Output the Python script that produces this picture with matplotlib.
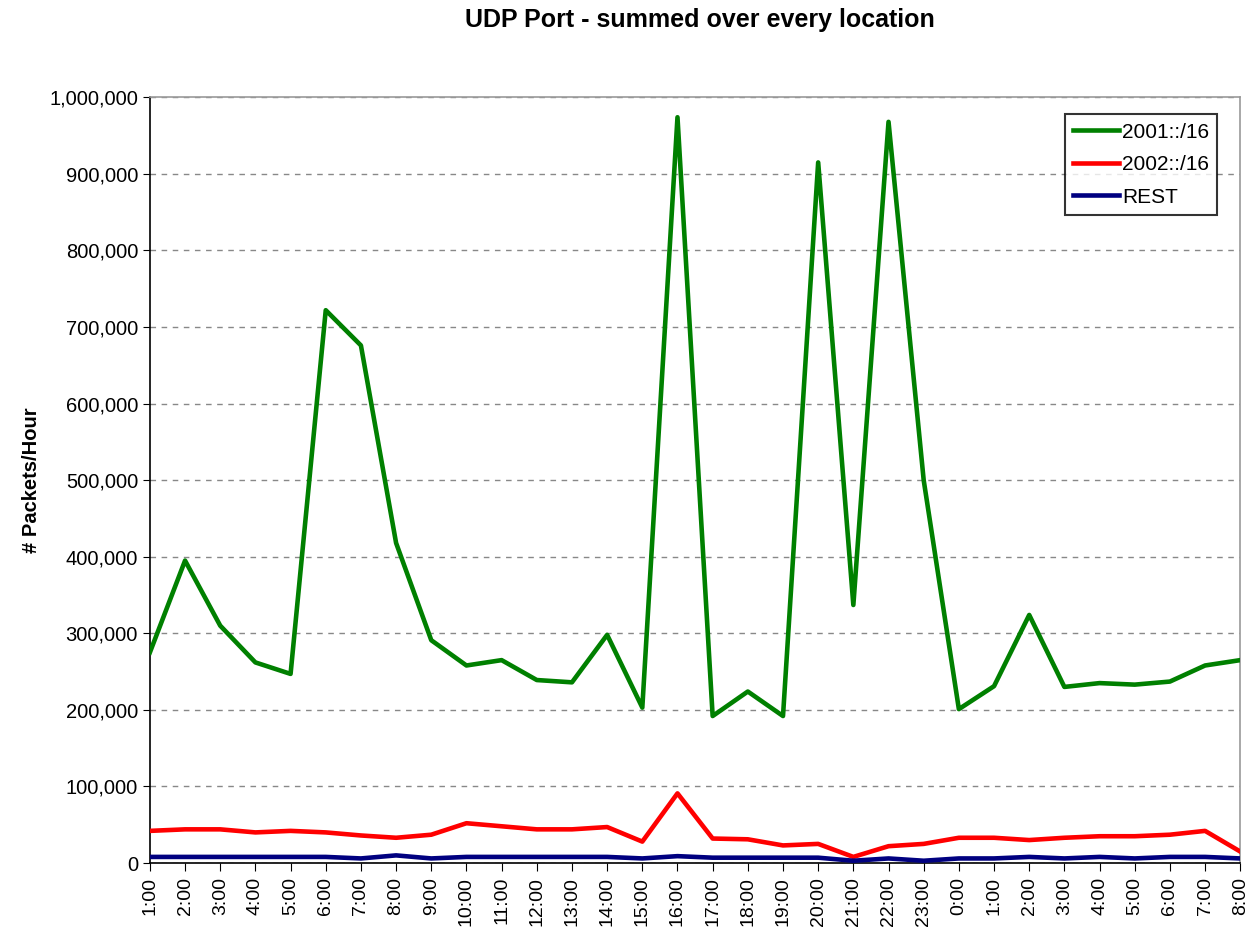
import matplotlib
matplotlib.use("Agg")
import matplotlib.pyplot as plt
from matplotlib.ticker import FuncFormatter

# data
hours = ["1:00", "2:00", "3:00", "4:00", "5:00", "6:00", "7:00", "8:00",
         "9:00", "10:00", "11:00", "12:00", "13:00", "14:00", "15:00", "16:00",
         "17:00", "18:00", "19:00", "20:00", "21:00", "22:00", "23:00", "0:00",
         "1:00", "2:00", "3:00", "4:00", "5:00", "6:00", "7:00", "8:00"]

net_2001 = [275000, 395000, 310000, 262000, 247000, 722000, 676000, 418000,
            291000, 258000, 265000, 239000, 236000, 298000, 203000, 974000,
            192000, 224000, 192000, 915000, 337000, 968000, 500000, 201000,
            231000, 324000, 230000, 235000, 233000, 237000, 258000, 265000]

net_2002 = [42000, 44000, 44000, 40000, 42000, 40000, 36000, 33000,
            37000, 52000, 48000, 44000, 44000, 47000, 28000, 91000,
            32000, 31000, 23000, 25000, 8000, 22000, 25000, 33000,
            33000, 30000, 33000, 35000, 35000, 37000, 42000, 15000]

rest = [8000, 8000, 8000, 8000, 8000, 8000, 6000, 10000,
        6000, 8000, 8000, 8000, 8000, 8000, 6000, 9000,
        7000, 7000, 7000, 7000, 3000, 6000, 3000, 6000,
        6000, 8000, 6000, 8000, 6000, 8000, 8000, 6000]

plt.rcParams['font.family'] = ['Liberation Sans', 'DejaVu Sans']

fig = plt.figure(figsize=(12.49, 9.27), dpi=100)
ax = fig.add_axes([0.120, 0.069, 0.873, 0.826])

x = range(len(hours))
ax.plot(x, net_2001, color='#008000', lw=3.3, label='2001::/16', zorder=4)
ax.plot(x, net_2002, color='#ff0000', lw=3.3, label='2002::/16', zorder=3)
ax.plot(x, rest, color='#000080', lw=3.3, label='REST', zorder=3)

ax.set_xlim(0, len(hours) - 1)
ax.set_ylim(0, 1000000)
ax.set_xticks(list(x))
ax.set_xticklabels(hours, rotation=90, fontsize=14)
ax.set_yticks(range(0, 1000001, 100000))
ax.yaxis.set_major_formatter(FuncFormatter(lambda v, p: f"{int(v):,}"))
ax.tick_params(axis='y', labelsize=14.5, direction='out', length=5, color='black')
ax.tick_params(axis='x', direction='out', length=6, color='black', pad=4)

# gridlines
ax.grid(axis='y', linestyle=(0, (4, 4)), color='#888888', lw=1)
ax.set_axisbelow(True)

ax.spines['left'].set_color('black')
ax.spines['bottom'].set_color('black')
ax.spines['top'].set_color('#999999')
ax.spines['right'].set_color('#999999')
for s in ax.spines.values():
    s.set_linewidth(1.2)

ax.set_ylabel("# Packets/Hour", fontsize=14.5, fontweight='bold', labelpad=6)
fig.text(0.56, 0.978, "UDP Port - summed over every location", fontsize=18,
         fontweight='bold', ha='center', va='center')

leg = ax.legend(loc='upper right', bbox_to_anchor=(0.979, 0.978), fontsize=15,
                frameon=True, fancybox=False, handlelength=2.2,
                handletextpad=0.15, borderpad=0.4, labelspacing=0.65,
                borderaxespad=0)
leg.get_frame().set_edgecolor('black')
leg.get_frame().set_linewidth(1.5)

fig.savefig("out.png", dpi=100)
